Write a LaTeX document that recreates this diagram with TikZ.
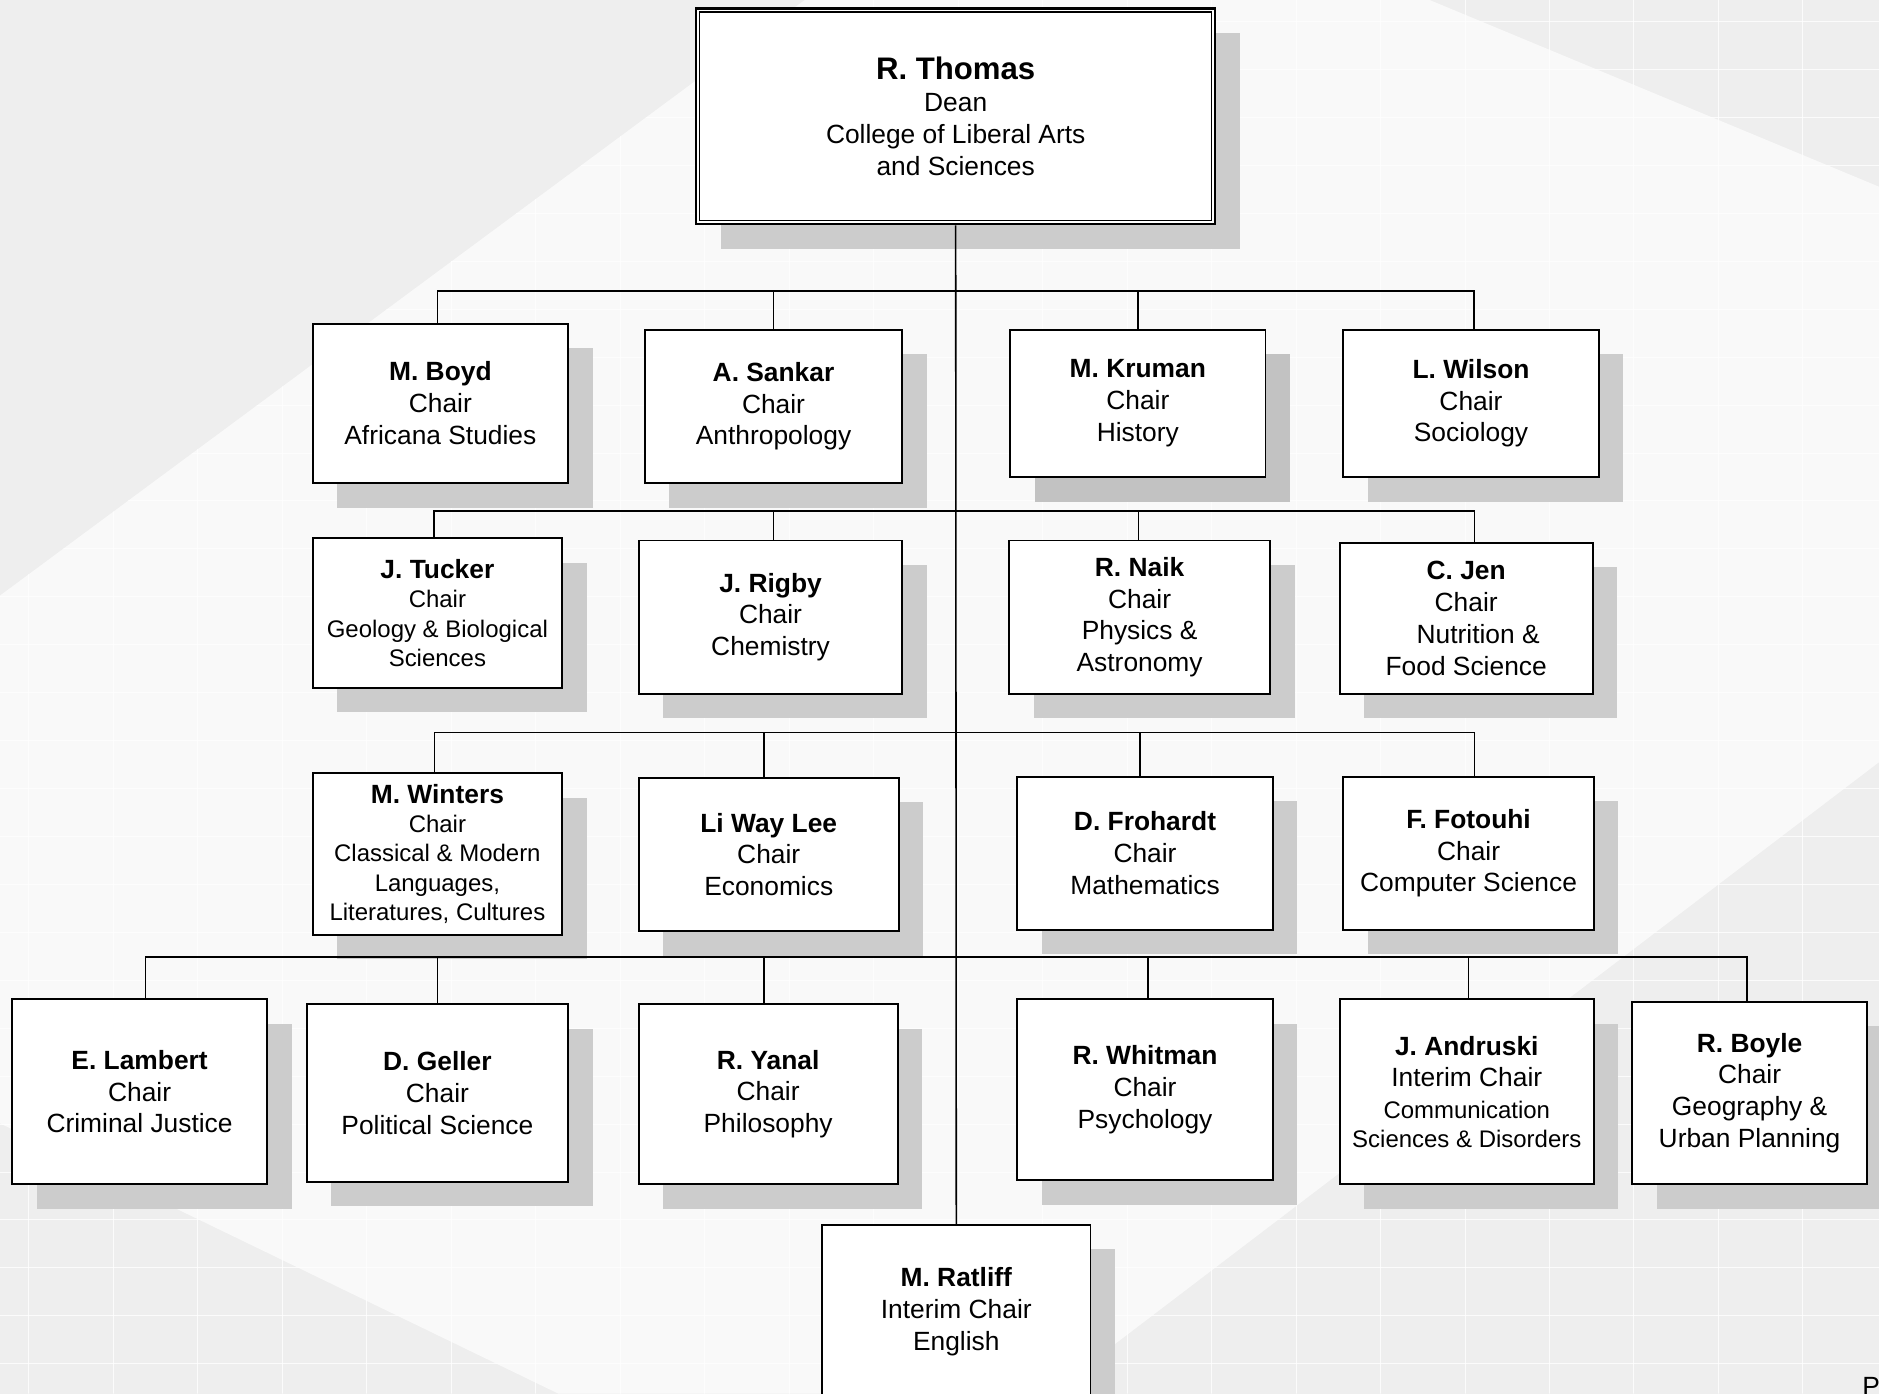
\documentclass[tikz,border=0pt]{standalone}
\usepackage{fontspec}
\setmainfont{Liberation Sans}
\usetikzlibrary{shadows}
\definecolor{bgdark}{HTML}{EEEEEE}
\definecolor{bglight}{HTML}{F9F9F9}
\definecolor{shadowgray}{HTML}{CCCCCC}
\definecolor{shadowdark}{HTML}{C2C2C2}
\newcommand\nm[1]{{\fontsize{22}{26.5}\selectfont\bfseries #1}}
\newcommand\sm[1]{{\fontsize{20}{24}\selectfont #1}}
\tikzset{
  org/.style={draw=black, line width=1.6pt, fill=white, align=center, inner sep=0pt,
    font=\fontsize{22}{26.5}\selectfont,
    drop shadow={shadow xshift=20.5pt, shadow yshift=-20.5pt, fill=shadowgray, opacity=1}},
  orgsmall/.style={org, font=\fontsize{20}{24.4}\selectfont},
  conn/.style={draw=black, line width=1.3pt},
  gridline/.style={draw=white, line width=0.8pt, opacity=0.8}
}
\newcommand\obox[7][]{\node[org,#1, minimum width=#5pt-#3pt, minimum height=#6pt-#4pt] (#2) at ({(#3+#5)/2},{(#4+#6)/2}) {#7};}
\begin{document}
\begin{tikzpicture}[x=1pt,y=-1pt]
\useasboundingbox (0,0) rectangle (1568,1163);
\clip (0,0) rectangle (1568,1163);
% background
\fill[bgdark] (0,0) rectangle (1568,1163);
\fill[bglight] (671.5,0) -- (1193,0) -- (1568,155.8) -- (1568,636) -- (876,1163) -- (466,1163) -- (0,937.4) -- (0,497) -- cycle;
\begin{scope}
  \clip (671.5,0) -- (1568,0) -- (1568,1163) -- (0,1163) -- (0,497) -- cycle;
  \foreach \x in {24,94.5,...,1568} \draw[gridline] (\x,0) -- (\x,1163);
  \foreach \y in {18,58,...,1163} \draw[gridline] (0,\y) -- (1568,\y);
\end{scope}

% nodes
\obox[line width=2pt]{dean}{581}{7}{1014}{187}{{\fontsize{26}{29}\selectfont\bfseries R. Thomas}\\Dean\\College of Liberal Arts\\and Sciences}
\draw[line width=1pt] ([shift={(4pt,4pt)}]dean.south west) rectangle ([shift={(-4pt,-4pt)}]dean.north east);

\obox{boyd}{261}{270}{474}{403}{\nm{M. Boyd}\\Chair\\Africana Studies}
\obox{sankar}{538}{275}{753}{403}{\nm{A. Sankar}\\Chair\\Anthropology}
\obox[drop shadow={shadow xshift=20.5pt, shadow yshift=-20.5pt, fill=shadowdark, opacity=1}]{kruman}{843}{275}{1056}{398}{\nm{M. Kruman}\\Chair\\History}
\obox{wilson}{1121}{275}{1334}{398}{\nm{L. Wilson}\\Chair\\Sociology}

\obox[orgsmall]{tucker}{261}{449}{469}{574}{\nm{J. Tucker}\\Chair\\Geology \& Biological\\Sciences}
\obox{rigby}{533}{451}{753}{579}{\nm{J. Rigby}\\Chair\\Chemistry}
\obox{naik}{842}{451}{1060}{579}{\nm{R. Naik}\\Chair\\Physics \&\\Astronomy}
\obox{jen}{1118}{453}{1329}{579}{\nm{C. Jen}\\Chair\\\hspace*{20pt}Nutrition \&\\Food Science}

\obox[orgsmall]{winters}{261}{645}{469}{780}{\nm{M. Winters}\\Chair\\Classical \& Modern\\Languages,\\Literatures, Cultures}
\obox{liwaylee}{533}{649}{750}{777}{\nm{Li Way Lee}\\Chair\\Economics}
\obox{frohardt}{849}{648}{1062}{776}{\nm{D. Frohardt}\\Chair\\Mathematics}
\obox{fotouhi}{1121}{648}{1330}{776}{\nm{F. Fotouhi}\\Chair\\Computer Science}

\obox{lambert}{10}{834}{223}{988}{\nm{E. Lambert}\\Chair\\Criminal Justice}
\obox{geller}{256}{838}{474}{986}{\nm{D. Geller}\\Chair\\Political Science}
\obox{yanal}{533}{838}{749}{988}{\nm{R. Yanal}\\Chair\\Philosophy}
\obox{whitman}{849}{834}{1062}{985}{\nm{R. Whitman}\\Chair\\Psychology}
\obox{andruski}{1118}{834}{1330}{988}{\nm{J. Andruski}\\Interim Chair\\\sm{Communication}\\[-2.5pt]\sm{Sciences \& Disorders}}
\obox{boyle}{1362}{836}{1558}{988}{\nm{R. Boyle}\\Chair\\Geography \&\\Urban Planning}
\obox{ratliff}{686}{1022}{910}{1167}{\nm{M. Ratliff}\\Interim Chair\\English}

\node[anchor=north west, inner sep=0pt, font=\fontsize{22}{26}\selectfont] (pagemark) at (1554,1149) {P};

% connectors
\coordinate (bus1) at (797.5,242.8);
\coordinate (bus2) at (797.5,426.4);
\coordinate (bus3) at (797.5,611.4);
\coordinate (bus4) at (797.5,798.6);
\draw[conn] (dean.south) -- (ratliff.north);

\draw[conn] ([xshift=-2.5pt]boyd.north) |- (bus1) -| ([xshift=2.5pt]wilson.north);
\draw[conn] (sankar.north) -- (sankar.north |- bus1);
\draw[conn] (kruman.north) -- (kruman.north |- bus1);

\draw[conn] ([xshift=-3pt]tucker.north) |- (bus2) -| ([xshift=7pt]jen.north);
\draw[conn] ([xshift=2.5pt]rigby.north) -- ([xshift=2.5pt]rigby.north |- bus2);
\draw[conn] ([xshift=-1pt]naik.north) -- ([xshift=-1pt]naik.north |- bus2);

\draw[conn] ([xshift=-2.5pt]winters.north) |- (bus3) -| ([xshift=5pt]fotouhi.north);
\draw[conn] ([xshift=-4pt]liwaylee.north) -- ([xshift=-4pt]liwaylee.north |- bus3);
\draw[conn] ([xshift=-4pt]frohardt.north) -- ([xshift=-4pt]frohardt.north |- bus3);

\draw[conn] ([xshift=5pt]lambert.north) |- (bus4) -| ([xshift=-2pt]boyle.north);
\draw[conn] (geller.north) -- (geller.north |- bus4);
\draw[conn] ([xshift=-3.5pt]yanal.north) -- ([xshift=-3.5pt]yanal.north |- bus4);
\draw[conn] ([xshift=2.5pt]whitman.north) -- ([xshift=2.5pt]whitman.north |- bus4);
\draw[conn] ([xshift=1.5pt]andruski.north) -- ([xshift=1.5pt]andruski.north |- bus4);
\end{tikzpicture}
\end{document}
